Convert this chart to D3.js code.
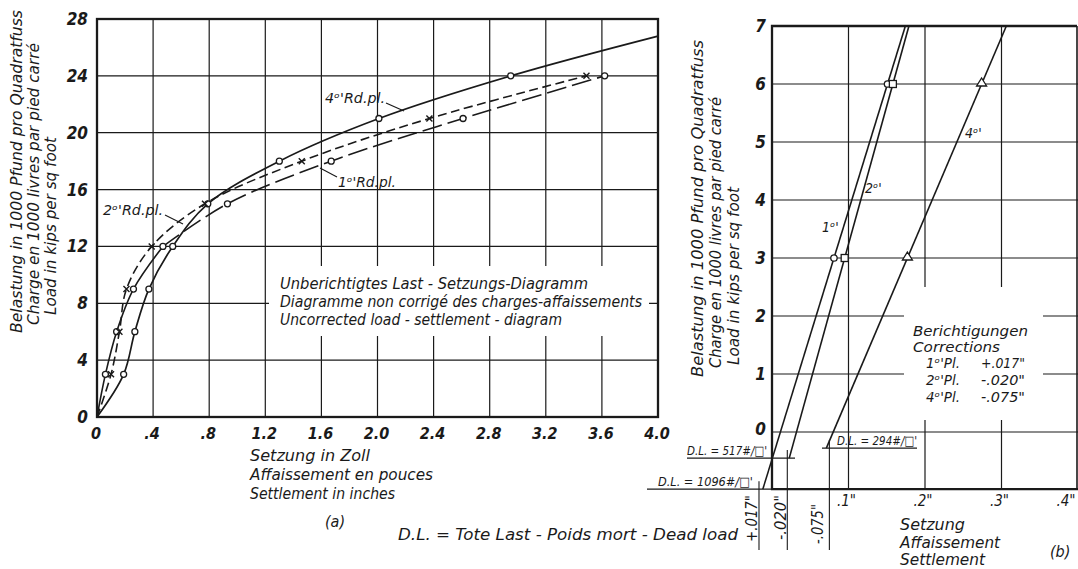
<!DOCTYPE html>
<html><head><meta charset="utf-8">
<script src="https://cdn.jsdelivr.net/npm/d3@7"></script>
<style>
html,body{margin:0;padding:0;background:#fff;}
svg{display:block;}
text{font-family:'DejaVu Sans Condensed','Liberation Sans Narrow','DejaVu Sans',sans-serif;font-style:italic;fill:#1a1a1a;}
</style>
</head><body>
<svg id="c" width="1078" height="569"></svg>
<script>
// ---------- DATA (a): uncorrected load-settlement ----------
const loadsA = [0, 3, 6, 9, 12, 15, 18, 21, 24];              // 1000 lb / sq ft
const settle1st = [0, 0.06, 0.14, 0.26, 0.47, 0.93, 1.67, 2.61, 3.62]; // inches
const settle2nd = [0, 0.10, 0.16, 0.21, 0.39, 0.77, 1.46, 2.37, 3.49];
const settle4th = [0, 0.19, 0.27, 0.37, 0.54, 0.79, 1.30, 2.01, 2.95];
const ext4thSettle = [4.0];   // continuation of 4th plate curve to frame edge
const ext4thLoad = [26.8];
const xTicksA = [0, 0.4, 0.8, 1.2, 1.6, 2.0, 2.4, 2.8, 3.2, 3.6, 4.0];
const xTickLabelsA = ["0", ".4", ".8", "1.2", "1.6", "2.0", "2.4", "2.8", "3.2", "3.6", "4.0"];
const yTicksA = [0, 4, 8, 12, 16, 20, 24, 28];
const yTickLabelsA = ["0", "4", "8", "12", "16", "20", "24", "28"];

// ---------- DATA (b): corrected ----------
const loadsB = [3, 6];
const corr1st = [0.081, 0.151];
const corr2nd = [0.095, 0.158];
const corr4th = [0.177, 0.274];
const lineEndLoads = [-0.985, -0.45, -0.277];      // dead-load levels where lines stop (1st, 2nd, 4th)
const deadLoadLabels = ["1096", "517", "294"];
const corrTicks = [-0.017, 0.020, 0.075];
const corrTickLabels = ["+.017\"", "-.020\"", "-.075\""];
const yTicksB = [0, 1, 2, 3, 4, 5, 6, 7];
const xTicksB = [0.1, 0.2, 0.3, 0.4];
const xTickLabelsB = [".1\"", ".2\"", ".3\"", ".4\""];
const corrRows = [["1ᵒ'Pl.", "+.017\""], ["2ᵒ'Pl.", "-.020\""], ["4ᵒ'Pl.", "-.075\""]];

// ---------- SETUP ----------
const INK = "#1a1a1a";
const svg = d3.select("#c");
svg.append("rect").attr("width", 1078).attr("height", 569).attr("fill", "#fff");

function label(g, s, x, y, o = {}) {
  const t = g.append("text").attr("x", x).attr("y", y)
    .attr("font-size", o.size || 15).attr("text-anchor", o.anchor || "start").text(s);
  if (o.rotate) t.attr("transform", `rotate(-90,${x},${y})`);
  if (o.len) t.attr("textLength", o.len).attr("lengthAdjust", "spacingAndGlyphs");
  if (o.weight) t.attr("font-weight", o.weight);
  return t;
}

// ================= CHART (a) =================
const xA = d3.scaleLinear().domain([0, 4]).range([97, 658]);
const yA = d3.scaleLinear().domain([0, 28]).range([417, 19]);
const gA = svg.append("g");

gA.selectAll("line.gv").data(xTicksA.filter(v => v > 0 && v < 4)).join("line")
  .attr("x1", d => xA(d)).attr("x2", d => xA(d)).attr("y1", yA(28)).attr("y2", yA(0))
  .attr("stroke", INK).attr("stroke-width", 1.2);
gA.selectAll("line.gh").data(yTicksA.filter(v => v > 0 && v < 28)).join("line")
  .attr("x1", xA(0)).attr("x2", xA(4)).attr("y1", d => yA(d)).attr("y2", d => yA(d))
  .attr("stroke", INK).attr("stroke-width", 1.2);
// white box behind annotation text
gA.append("rect").attr("x", 269).attr("y", 266).attr("width", 380).attr("height", 70).attr("fill", "#fff");
// frame
gA.append("rect").attr("x", xA(0)).attr("y", yA(28)).attr("width", xA(4) - xA(0)).attr("height", yA(0) - yA(28))
  .attr("fill", "none").attr("stroke", INK).attr("stroke-width", 2.3);

// tick labels
yTicksA.forEach((v, i) => label(gA, yTickLabelsA[i], 88, yA(v) + 6, { size: 17, anchor: "end", weight: "bold" }));
xTicksA.forEach((v, i) => label(gA, xTickLabelsA[i], xA(v) - 1, 439, { size: 16, anchor: "middle", weight: "bold" }));

// curves
const lineA = d3.line().x(d => xA(d[0])).y(d => yA(d[1])).curve(d3.curveCatmullRom.alpha(0.5));
const pts1 = settle1st.map((s, i) => [s, loadsA[i]]);
const pts2 = settle2nd.map((s, i) => [s, loadsA[i]]);
const pts4 = settle4th.map((s, i) => [s, loadsA[i]]);
const pts4ext = pts4.concat(ext4thSettle.map((s, i) => [s, ext4thLoad[i]]));

gA.append("path").attr("d", lineA(pts4ext)).attr("fill", "none").attr("stroke", INK).attr("stroke-width", 1.7);
gA.append("path").attr("d", lineA(pts2)).attr("fill", "none").attr("stroke", INK).attr("stroke-width", 1.6)
  .attr("stroke-dasharray", "9,4.5");
gA.append("path").attr("d", lineA(pts1.slice(0, 5))).attr("fill", "none").attr("stroke", INK).attr("stroke-width", 1.6);
gA.append("path").attr("d", lineA(pts1.slice(4))).attr("fill", "none").attr("stroke", INK).attr("stroke-width", 1.6)
  .attr("stroke-dasharray", "20,6");

// markers
function circles(g, pts, xs, ys) {
  g.selectAll(null).data(pts.filter(p => p[1] > 0)).join("circle")
    .attr("cx", d => xs(d[0])).attr("cy", d => ys(d[1])).attr("r", 3)
    .attr("fill", "#fff").attr("stroke", INK).attr("stroke-width", 1.3);
}
circles(gA, pts4, xA, yA);
circles(gA, pts1, xA, yA);
gA.selectAll(null).data(pts2.filter(p => p[1] > 0)).join("path")
  .attr("d", d => { const x = xA(d[0]), y = yA(d[1]), s = 3; return `M${x - s},${y - s}L${x + s},${y + s}M${x - s},${y + s}L${x + s},${y - s}`; })
  .attr("stroke", INK).attr("stroke-width", 1.4);

// curve labels with leaders
label(gA, "4ᵒ'Rd.pl.", 325, 103, { size: 14, len: 60 });
gA.append("path").attr("d", "M386,103L404,111").attr("stroke", INK).attr("stroke-width", 1.1);
label(gA, "1ᵒ'Rd.pl.", 338, 187, { size: 14, len: 58 });
gA.append("path").attr("d", "M320,168L337,177").attr("stroke", INK).attr("stroke-width", 1.1);
label(gA, "2ᵒ'Rd.pl.", 103, 215, { size: 14, len: 60 });
gA.append("path").attr("d", "M165,215L183,224").attr("stroke", INK).attr("stroke-width", 1.1);

// annotation
label(gA, "Unberichtigtes Last - Setzungs-Diagramm", 280, 289, { size: 15, len: 308 });
label(gA, "Diagramme non corrigé des charges-affaissements", 280, 307, { size: 15, len: 362 });
label(gA, "Uncorrected load - settlement - diagram", 280, 325, { size: 15, len: 282 });

// axis titles
label(gA, "Belastung in 1000 Pfund pro Quadratfuss", 22, 333, { size: 15, rotate: true, len: 323 });
label(gA, "Charge en 1000 livres par pied carré", 39, 325, { size: 15, rotate: true, len: 282 });
label(gA, "Load in kips per sq foot", 56, 315, { size: 15, rotate: true, len: 178 });
label(gA, "Setzung in Zoll", 250, 461, { size: 16, len: 120 });
label(gA, "Affaissement en pouces", 250, 480, { size: 16, len: 183 });
label(gA, "Settlement in inches", 250, 499, { size: 16, len: 145 });
label(gA, "(a)", 325, 527, { size: 16 });
label(gA, "D.L. = Tote Last - Poids mort - Dead load", 738, 540, { size: 15, anchor: "end", len: 340 });

// ================= CHART (b) =================
const xB = d3.scaleLinear().domain([0, 0.4]).range([772, 1078]);
const yB = d3.scaleLinear().domain([0, 7]).range([432, 26]);
const gB = svg.append("g");
const yBottom = yB(lineEndLoads[0]);

gB.selectAll("line.gv").data(xTicksB.filter(v => v < 0.4)).join("line")
  .attr("x1", d => xB(d)).attr("x2", d => xB(d)).attr("y1", yB(7)).attr("y2", yBottom)
  .attr("stroke", INK).attr("stroke-width", 1.2);
gB.selectAll("line.gh").data(yTicksB.filter(v => v < 7)).join("line")
  .attr("x1", xB(0)).attr("x2", xB(0.4)).attr("y1", d => yB(d)).attr("y2", d => yB(d))
  .attr("stroke", INK).attr("stroke-width", 1.2);
gB.append("rect").attr("x", 904).attr("y", 287).attr("width", 139).attr("height", 133).attr("fill", "#fff");
// frame
gB.append("path").attr("d", `M${xB(0.4) - 1},${yB(7)}L${xB(0)},${yB(7)}L${xB(0)},${yBottom}L${xB(0.4)},${yBottom}`)
  .attr("fill", "none").attr("stroke", INK).attr("stroke-width", 2.3);
gB.append("line").attr("x1", xB(0.4) - 1).attr("x2", xB(0.4) - 1).attr("y1", yB(7)).attr("y2", yBottom)
  .attr("stroke", INK).attr("stroke-width", 1.6);

// dead-load lines
gB.append("line").attr("x1", 647).attr("x2", xB(0)).attr("y1", yBottom).attr("y2", yBottom).attr("stroke", INK).attr("stroke-width", 1.3);
gB.append("line").attr("x1", 687).attr("x2", 795).attr("y1", yB(lineEndLoads[1])).attr("y2", yB(lineEndLoads[1])).attr("stroke", INK).attr("stroke-width", 1.2);
gB.append("line").attr("x1", 822).attr("x2", 917).attr("y1", yB(lineEndLoads[2])).attr("y2", yB(lineEndLoads[2])).attr("stroke", INK).attr("stroke-width", 1.2);

// correction ticks
corrTicks.forEach((v, i) => {
  gB.append("line").attr("x1", xB(v)).attr("x2", xB(v)).attr("y1", yB(lineEndLoads[i]) - 8).attr("y2", 550)
    .attr("stroke", INK).attr("stroke-width", 1.1);
});
const tickLabelX = [757, 786, 823];
const tickLabelY = [542, 540, 544];
corrTickLabels.forEach((s, i) => label(gB, s, tickLabelX[i], tickLabelY[i], { size: 15, rotate: true, len: [47, 45, 40][i] }));

// tick labels
yTicksB.forEach(v => label(gB, String(v), 766, yB(v) + (v === 0 ? 3 : 6), { size: 17, anchor: "end", weight: "bold" }));
xTicksB.forEach((v, i) => label(gB, xTickLabelsB[i], Math.min(xB(v) - 2, 1066), 506, { size: 15, anchor: "middle" }));

// corrected lines (straight, through the two measured points)
const series = [corr1st, corr2nd, corr4th];
const lineB = d3.line().x(d => xB(d[0])).y(d => yB(d[1]));
series.forEach((c, i) => {
  const slope = (c[1] - c[0]) / (loadsB[1] - loadsB[0]);
  const at = L => c[0] + (L - loadsB[0]) * slope;
  const lo = lineEndLoads[i];
  gB.append("path").attr("d", lineB([[at(lo), lo], [at(7), 7]]))
    .attr("fill", "none").attr("stroke", INK).attr("stroke-width", 1.6);
});
// markers
gB.selectAll(null).data(loadsB.map((L, i) => [corr1st[i], L])).join("circle")
  .attr("cx", d => xB(d[0])).attr("cy", d => yB(d[1])).attr("r", 3.2)
  .attr("fill", "#fff").attr("stroke", INK).attr("stroke-width", 1.3);
gB.selectAll(null).data(loadsB.map((L, i) => [corr2nd[i], L])).join("rect")
  .attr("x", d => xB(d[0]) - 3.5).attr("y", d => yB(d[1]) - 3.5).attr("width", 7).attr("height", 7)
  .attr("fill", "#fff").attr("stroke", INK).attr("stroke-width", 1.3);
gB.selectAll(null).data(loadsB.map((L, i) => [corr4th[i], L])).join("path")
  .attr("d", d => { const x = xB(d[0]), y = yB(d[1]); return `M${x},${y - 6}L${x + 5},${y + 2}L${x - 5},${y + 2}Z`; })
  .attr("fill", "#fff").attr("stroke", INK).attr("stroke-width", 1.3);

// line labels
label(gB, "1ᵒ'", 822, 232, { size: 14 });
label(gB, "2ᵒ'", 865, 193, { size: 14 });
label(gB, "4ᵒ'", 965, 138, { size: 14 });

// dead-load labels
label(gB, "D.L. = " + deadLoadLabels[1] + "#/□'", 687, 455, { size: 13, len: 80 });
label(gB, "D.L. = " + deadLoadLabels[0] + "#/□'", 658, 486, { size: 13, len: 95 });
label(gB, "D.L. = " + deadLoadLabels[2] + "#/□'", 837, 445, { size: 13, len: 80 });

// corrections box
label(gB, "Berichtigungen", 913, 336, { size: 14, len: 115 });
label(gB, "Corrections", 913, 352, { size: 14, len: 87 });
corrRows.forEach((r, i) => {
  label(gB, r[0], 926, 368 + i * 17, { size: 14, len: 34 });
  label(gB, r[1], 1025, 368 + i * 17, { size: 14, anchor: "end", len: 44 });
});

// axis titles
label(gB, "Belastung in 1000 Pfund pro Quadratfuss", 703, 377, { size: 15, rotate: true, len: 337 });
label(gB, "Charge en 1000 livres par pied carré", 721, 368, { size: 15, rotate: true, len: 271 });
label(gB, "Load in kips per sq foot", 739, 365, { size: 15, rotate: true, len: 178 });
label(gB, "Setzung", 900, 530, { size: 16, len: 65 });
label(gB, "Affaissement", 900, 548, { size: 16, len: 100 });
label(gB, "Settlement", 900, 565, { size: 16, len: 85 });
label(gB, "(b)", 1050, 557, { size: 16 });
</script>
</body></html>
